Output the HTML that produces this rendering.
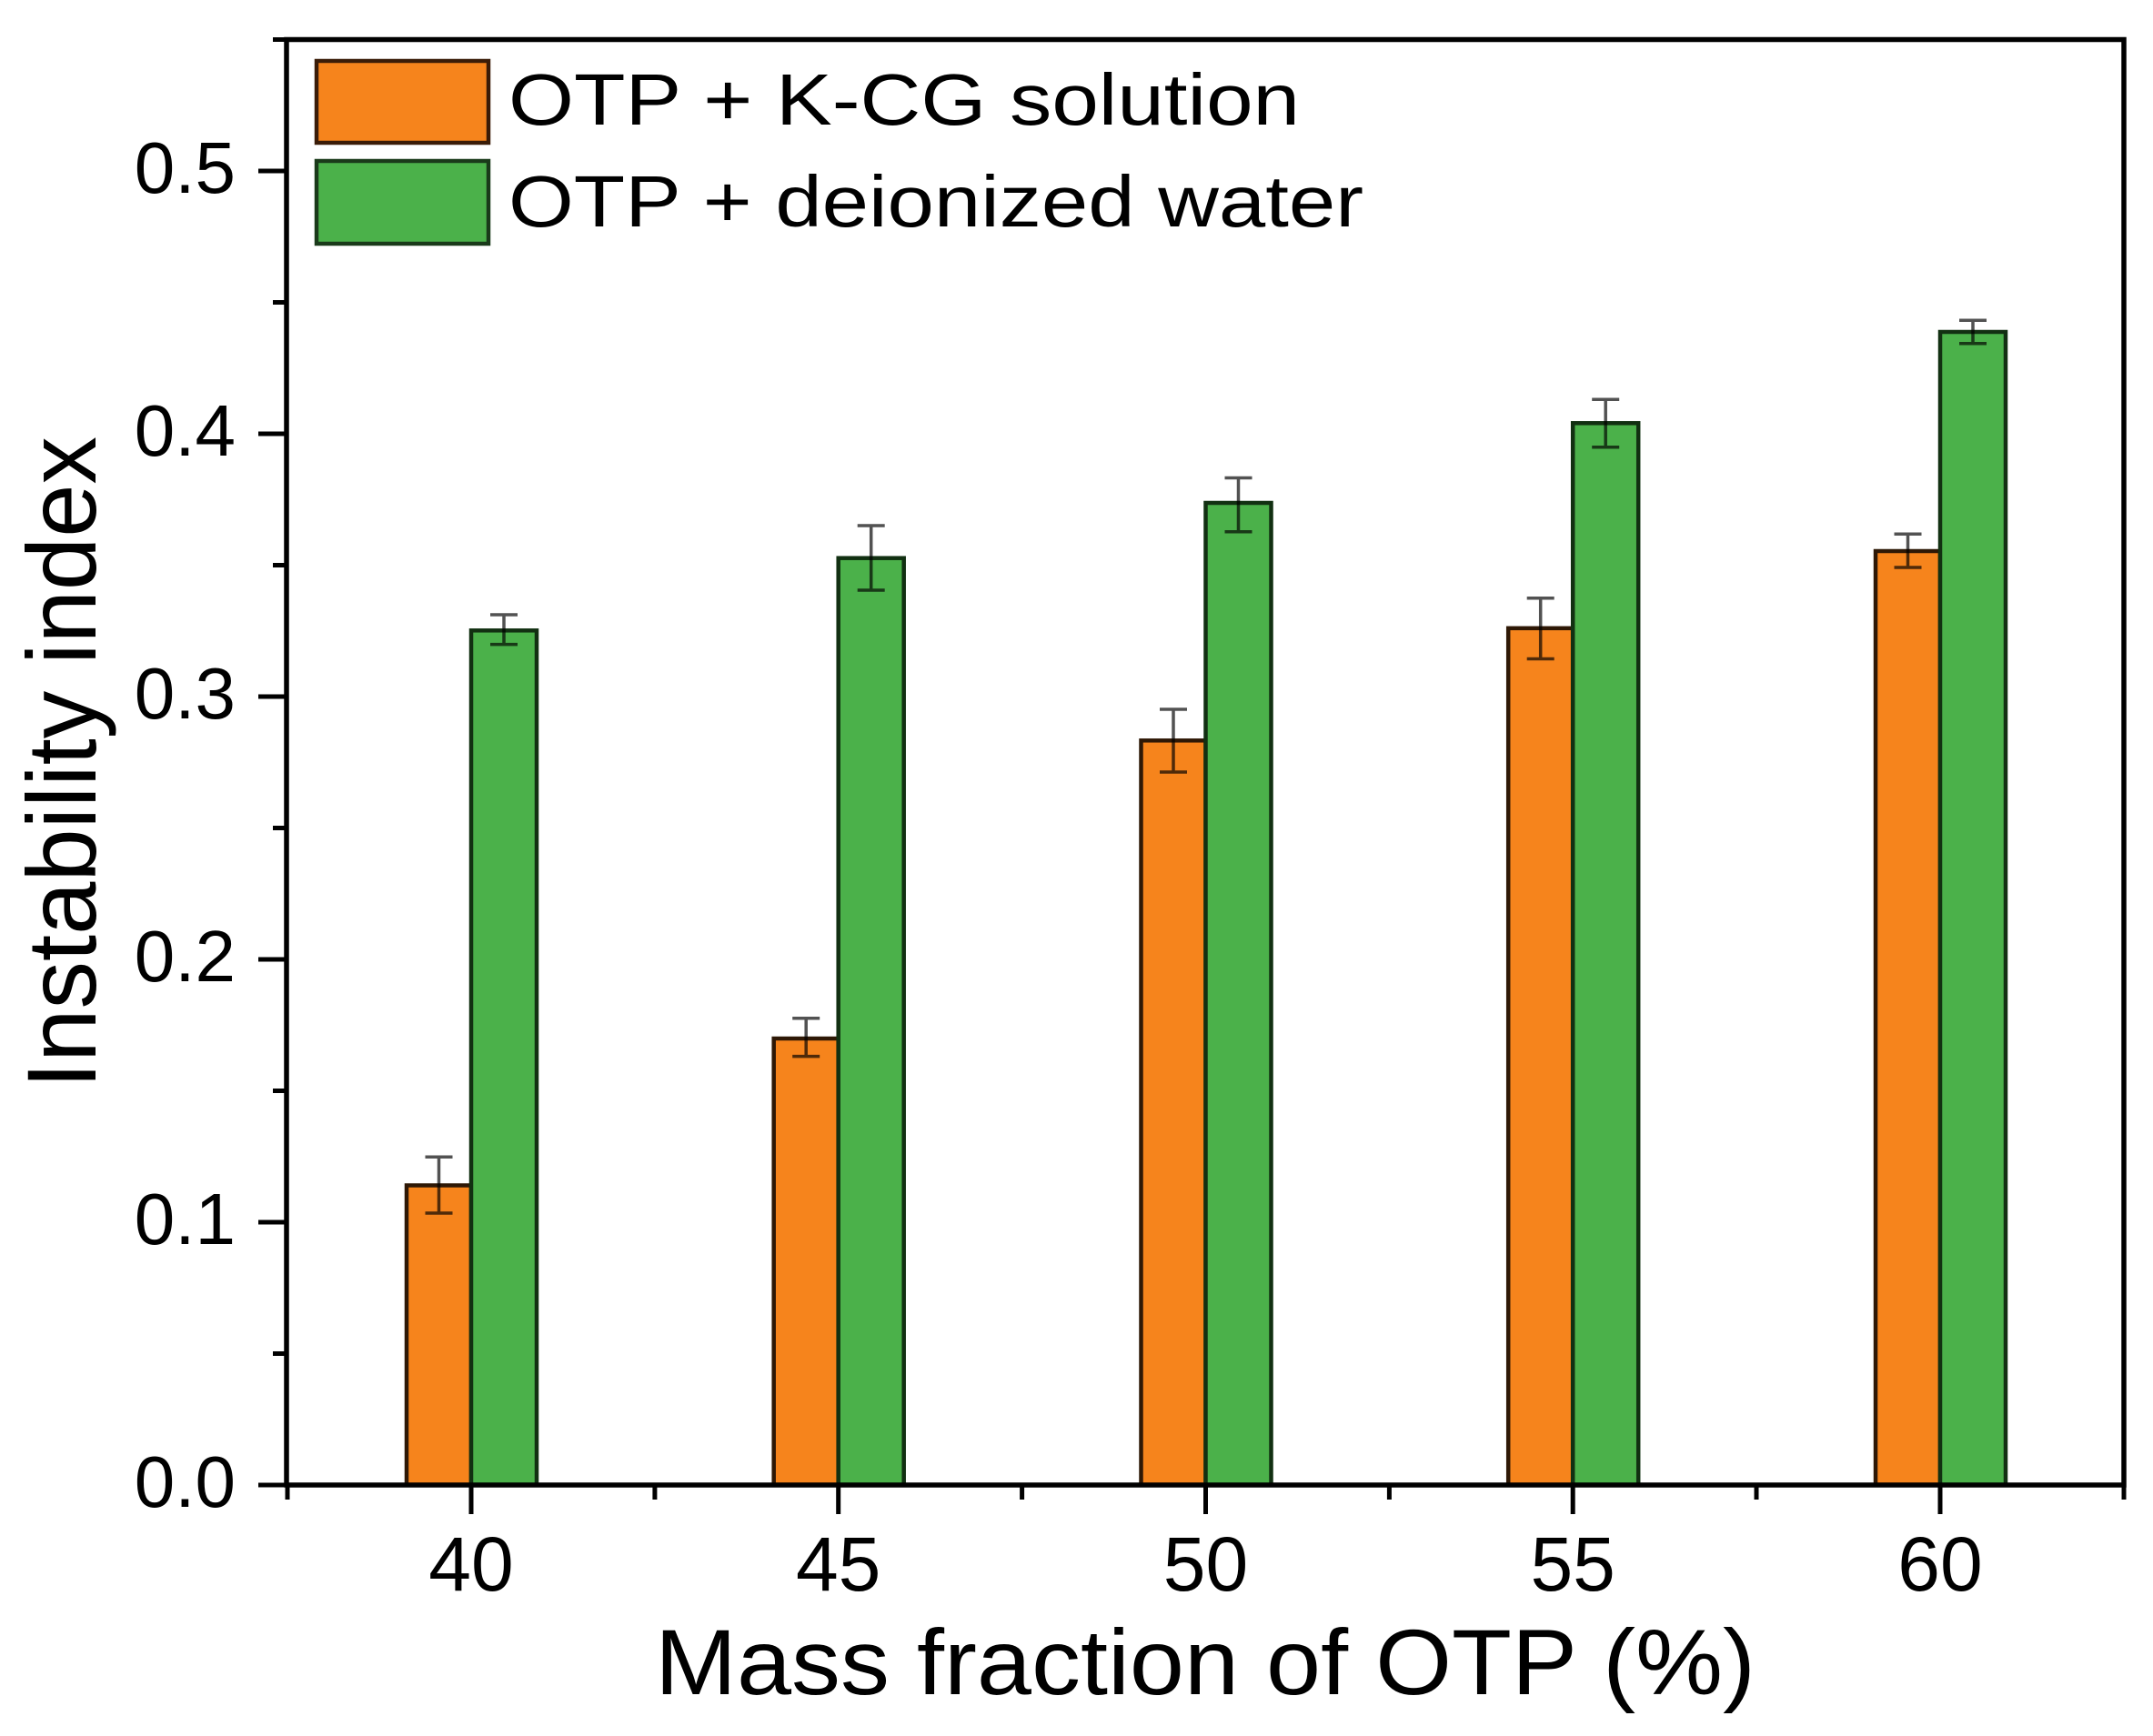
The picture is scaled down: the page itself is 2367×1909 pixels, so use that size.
<!DOCTYPE html>
<html>
<head>
<meta charset="utf-8">
<style>
  html, body { margin: 0; padding: 0; background: #ffffff; }
  svg { display: block; }
  text { font-family: "Liberation Sans", Arial, sans-serif; fill: #000; }
</style>
</head>
<body>
<svg width="2367" height="1909" viewBox="0 0 2367 1909" xmlns="http://www.w3.org/2000/svg">
  <rect x="0" y="0" width="2367" height="1909" fill="#ffffff"/>

  <!-- Bars -->
  <g stroke-width="4.5" stroke-linejoin="miter">
    <!-- 40 -->
    <rect x="447" y="1303.5" width="71" height="329.5" fill="#F6841C" stroke="#2e1806"/>
    <rect x="518" y="693.3" width="72" height="939.7" fill="#4BB14A" stroke="#123012"/>
    <!-- 45 -->
    <rect x="850.7" y="1142" width="71" height="491" fill="#F6841C" stroke="#2e1806"/>
    <rect x="921.7" y="613.7" width="72" height="1019.3" fill="#4BB14A" stroke="#123012"/>
    <!-- 50 -->
    <rect x="1254.5" y="814.3" width="71" height="818.7" fill="#F6841C" stroke="#2e1806"/>
    <rect x="1325.5" y="553" width="72" height="1080" fill="#4BB14A" stroke="#123012"/>
    <!-- 55 -->
    <rect x="1658.2" y="690.8" width="71" height="942.2" fill="#F6841C" stroke="#2e1806"/>
    <rect x="1729.2" y="465.3" width="72" height="1167.7" fill="#4BB14A" stroke="#123012"/>
    <!-- 60 -->
    <rect x="2062" y="606" width="71" height="1027" fill="#F6841C" stroke="#2e1806"/>
    <rect x="2133" y="365" width="72" height="1268" fill="#4BB14A" stroke="#123012"/>
  </g>

  <!-- Error bars -->
  <g stroke="#000" stroke-opacity="0.68" stroke-width="3.5" fill="none">
    <!-- 40 orange -->
    <path d="M482.5 1272.3 V1334 M467.5 1272.3 H497.5 M467.5 1334 H497.5"/>
    <!-- 40 green -->
    <path d="M554 676 V708.6 M539 676 H569 M539 708.6 H569"/>
    <!-- 45 orange -->
    <path d="M886.2 1119.8 V1161.6 M871.2 1119.8 H901.2 M871.2 1161.6 H901.2"/>
    <!-- 45 green -->
    <path d="M957.7 578 V649 M942.7 578 H972.7 M942.7 649 H972.7"/>
    <!-- 50 orange -->
    <path d="M1290 780 V849 M1275 780 H1305 M1275 849 H1305"/>
    <!-- 50 green -->
    <path d="M1361.5 525.5 V584.7 M1346.5 525.5 H1376.5 M1346.5 584.7 H1376.5"/>
    <!-- 55 orange -->
    <path d="M1693.7 657.7 V724.5 M1678.7 657.7 H1708.7 M1678.7 724.5 H1708.7"/>
    <!-- 55 green -->
    <path d="M1765.2 439.3 V491.8 M1750.2 439.3 H1780.2 M1750.2 491.8 H1780.2"/>
    <!-- 60 orange -->
    <path d="M2097.5 587.3 V624 M2082.5 587.3 H2112.5 M2082.5 624 H2112.5"/>
    <!-- 60 green -->
    <path d="M2169 352.3 V377.7 M2154 352.3 H2184 M2154 377.7 H2184"/>
  </g>

  <!-- Axes frame -->
  <g stroke="#000" stroke-width="5.5" fill="none" stroke-linecap="square">
    <path d="M315 43.5 H2335 V1633 H315 Z"/>
  </g>

  <!-- Y ticks -->
  <g stroke="#000" stroke-width="5" fill="none">
    <!-- major -->
    <path d="M284 1633 H315 M284 1344 H315 M284 1055 H315 M284 766 H315 M284 477 H315 M284 188 H315"/>
    <!-- minor -->
    <path d="M300 1488.5 H315 M300 1199.5 H315 M300 910.5 H315 M300 621.5 H315 M300 332.5 H315 M300 43.5 H315"/>
  </g>

  <!-- X ticks -->
  <g stroke="#000" stroke-width="5" fill="none">
    <!-- major -->
    <path d="M518 1633 V1665 M921.7 1633 V1665 M1325.5 1633 V1665 M1729.2 1633 V1665 M2133 1633 V1665"/>
    <!-- minor -->
    <path d="M316 1633 V1649 M719.9 1633 V1649 M1123.6 1633 V1649 M1527.4 1633 V1649 M1931 1633 V1649 M2335 1633 V1649"/>
  </g>

  <!-- Y tick labels -->
  <g font-size="80" text-anchor="end">
    <text x="259" y="1657">0.0</text>
    <text x="259" y="1368">0.1</text>
    <text x="259" y="1079">0.2</text>
    <text x="259" y="790">0.3</text>
    <text x="259" y="501">0.4</text>
    <text x="259" y="212">0.5</text>
  </g>

  <!-- X tick labels -->
  <g font-size="84" text-anchor="middle">
    <text x="518" y="1749">40</text>
    <text x="921.7" y="1749">45</text>
    <text x="1325.5" y="1749">50</text>
    <text x="1729.2" y="1749">55</text>
    <text x="2133" y="1749">60</text>
  </g>

  <!-- Axis titles -->
  <text x="720" y="1863" font-size="102" textLength="1210" lengthAdjust="spacingAndGlyphs">Mass fraction of OTP (%)</text>
  <text transform="translate(105,838.5) rotate(-90)" x="0" y="0" font-size="108" text-anchor="middle" textLength="717" lengthAdjust="spacingAndGlyphs">Instability index</text>

  <!-- Legend -->
  <rect x="348" y="67" width="189" height="90" fill="#F6841C" stroke="#3a1c08" stroke-width="4.5"/>
  <rect x="348" y="177" width="189" height="91" fill="#4BB14A" stroke="#1a3a1a" stroke-width="4.5"/>
  <text x="559" y="137" font-size="80" textLength="870" lengthAdjust="spacingAndGlyphs">OTP + K-CG solution</text>
  <text x="559" y="249" font-size="80" textLength="940" lengthAdjust="spacingAndGlyphs">OTP + deionized water</text>
</svg>
</body>
</html>
